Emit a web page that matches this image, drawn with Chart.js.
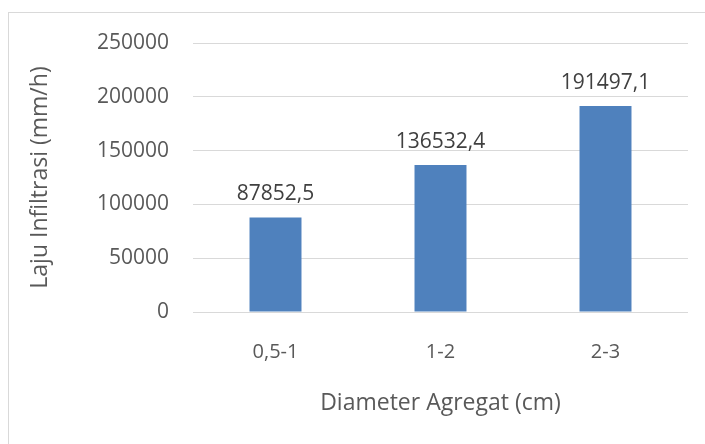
<!DOCTYPE html>
<html>
<head>
<meta charset="utf-8">
<script src="https://cdn.jsdelivr.net/npm/chart.js@4/dist/chart.umd.min.js"></script>
<style>
html,body{margin:0;padding:0;background:#fff;overflow:hidden;}
#frame{position:absolute;left:8px;top:12px;width:720px;height:460px;border:1px solid #d9d9d9;box-sizing:border-box;}
#wrap{position:absolute;left:0;top:0;width:705px;height:444px;}
</style>
</head>
<body>
<div id="frame"></div>
<div id="wrap"><canvas id="c" width="705" height="444"></canvas></div>
<script>
const categories = ['0,5-1', '1-2', '2-3'];
const values = [87852.5, 136532.4, 191497.1];
const valueLabels = ['87852,5', '136532,4', '191497,1'];
const yTicks = [0, 50000, 100000, 150000, 200000, 250000];

const FONT = '"Open Sans", "Liberation Sans", sans-serif';

const labelPlugin = {
  id: 'valLabels',
  afterDatasetsDraw(chart) {
    const ctx = chart.ctx;
    const meta = chart.getDatasetMeta(0);
    ctx.save();
    ctx.font = '21px ' + FONT;
    ctx.fillStyle = '#404040';
    ctx.textAlign = 'center';
    ctx.textBaseline = 'alphabetic';
    meta.data.forEach((bar, i) => {
      ctx.fillText(valueLabels[i], bar.x, bar.y - 17);
    });
    ctx.restore();
  }
};

new Chart(document.getElementById('c'), {
  type: 'bar',
  data: {
    labels: categories,
    datasets: [{
      data: values,
      backgroundColor: '#4f81bd',
      barPercentage: 0.63,
      categoryPercentage: 0.5
    }]
  },
  options: {
    responsive: false,
    animation: false,
    events: [],
    layout: { padding: { left: 0, right: 17, top: 43, bottom: 0 } },
    plugins: { legend: { display: false }, tooltip: { enabled: false } },
    scales: {
      x: {
        grid: { display: false, drawTicks: false },
        border: { display: false },
        ticks: { color: '#595959', font: { family: FONT, size: 20 }, padding: 28 },
        title: { display: true, text: 'Diameter Agregat (cm)', color: '#595959', font: { family: FONT, size: 23 }, padding: { top: 0, bottom: 27 } },
        afterFit(s) { s.height = 132; }
      },
      y: {
        min: 0, max: 250000,
        afterBuildTicks(s) { s.ticks = yTicks.map(v => ({ value: v })); },
        grid: { color: '#d9d9d9', lineWidth: 1, drawTicks: false },
        border: { display: false },
        ticks: { color: '#595959', font: { family: FONT, size: 21 }, padding: 24, callback: (v) => String(v) },
        title: { display: true, text: 'Laju Infiltrasi (mm/h)', color: '#595959', font: { family: FONT, size: 23 }, padding: { top: 27, bottom: 0 } },
        afterFit(s) { s.width = 193; }
      }
    }
  },
  plugins: [labelPlugin]
});
</script>
</body>
</html>
